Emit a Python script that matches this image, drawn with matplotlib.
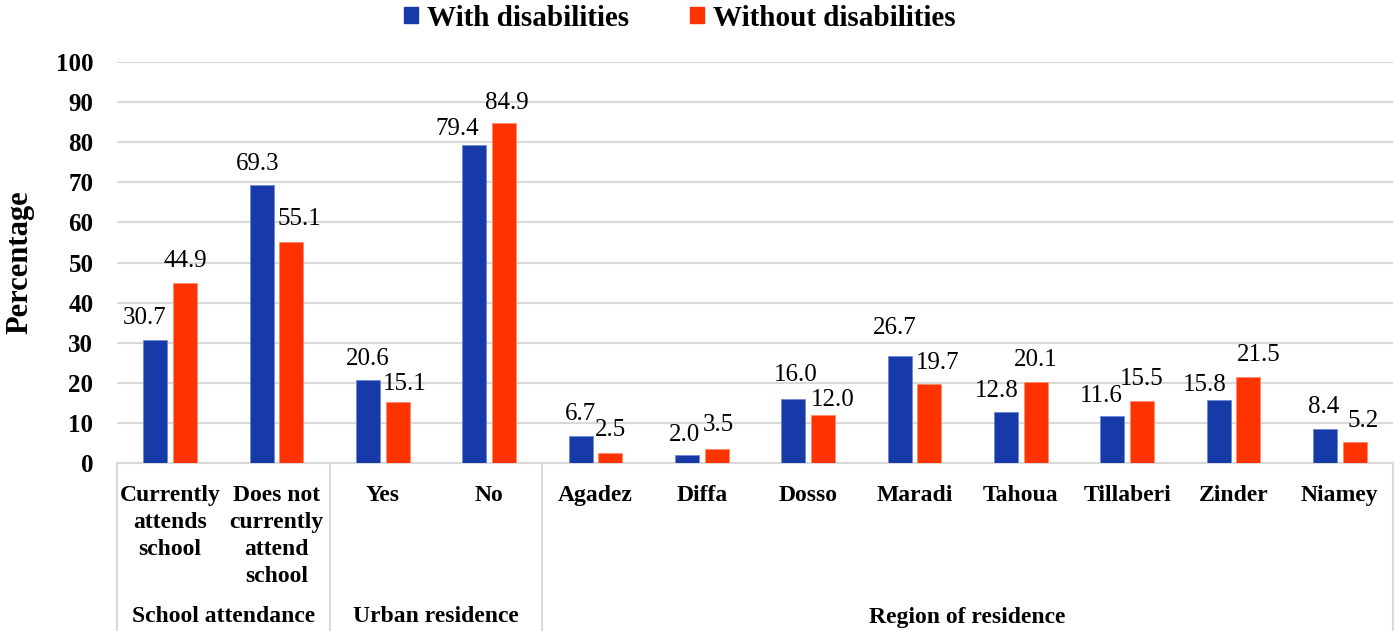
import matplotlib
matplotlib.use("Agg")
import matplotlib.pyplot as plt
from matplotlib.patches import Patch

# ---------------- data ----------------
categories = ["Currently\nattends\nschool", "Does not\ncurrently\nattend\nschool",
              "Yes", "No",
              "Agadez", "Diffa", "Dosso", "Maradi", "Tahoua", "Tillaberi", "Zinder", "Niamey"]
groups = ["School attendance", "Urban residence", "Region of residence"]
group_sizes = [2, 2, 8]
with_dis = [30.7, 69.3, 20.6, 79.4, 6.7, 2.0, 16.0, 26.7, 12.8, 11.6, 15.8, 8.4]
without_dis = [44.9, 55.1, 15.1, 84.9, 2.5, 3.5, 12.0, 19.7, 20.1, 15.5, 21.5, 5.2]
series_names = ["With disabilities", "Without disabilities"]
yticks = list(range(0, 101, 10))

# ---------------- style ----------------
BLUE = "#163BA9"
RED = "#FF3300"
GRID = "#D9D9D9"
FONT = "Liberation Serif"
plt.rcParams["font.family"] = [FONT, "DejaVu Serif"]

# label offsets in pixels (dx, dy up) of the label centre relative to bar top
blue_off = [(-11, 24), (-4, 23), (0, 23), (-17, 18), (0, 24), (-2, 22),
            (3, 26), (-5, 30), (-9, 23), (-11, 22), (-14, 17), (-1, 24)]
red_off = [(0, 24), (8, 25), (7, 20), (3, 22), (0, 25), (2, 26),
           (10, 17), (8, 23), (0, 24), (0, 24), (10, 24), (8, 23)]

W, H = 1395, 631
fig = plt.figure(figsize=(W / 100, H / 100), dpi=100)
L, R, T, B = 117, 1393, 62, 463
ax = fig.add_axes([L / W, 1 - B / H, (R - L) / W, (B - T) / H])
axh = B - T

n = len(categories)
xs = list(range(n))
bw = 24 / 106.5
off = 15 / 106.5

ax.bar([x - off for x in xs], with_dis, width=bw, color=BLUE, zorder=3,
       edgecolor="#6F88D0", linewidth=0.6)
ax.bar([x + off for x in xs], without_dis, width=bw, color=RED, zorder=3,
       edgecolor="#FF8A6A", linewidth=0.6)

for i, v in enumerate(with_dis):
    dx, dy = blue_off[i]
    ax.annotate(f"{v:.1f}", xy=(i - off, v), xytext=(dx, dy - 8),
                textcoords="offset pixels", ha="center", va="baseline",
                fontsize=18, family=FONT, zorder=4)
for i, v in enumerate(without_dis):
    dx, dy = red_off[i]
    ax.annotate(f"{v:.1f}", xy=(i + off, v), xytext=(dx, dy - 8),
                textcoords="offset pixels", ha="center", va="baseline",
                fontsize=18, family=FONT, zorder=4)

ax.set_xlim(-0.5, n - 0.5)
ax.set_ylim(0, 100)
ax.set_yticks(yticks)
ax.set_yticklabels([str(t) for t in yticks], fontsize=18, fontweight="bold", family=FONT)
ax.tick_params(axis="y", length=0, pad=17)
ax.set_xticks([])
ax.yaxis.grid(True, color=GRID, linewidth=1.5, zorder=0)
ax.set_axisbelow(True)
for s in ["top", "right", "left"]:
    ax.spines[s].set_visible(False)
ax.spines["bottom"].set_color(GRID)
ax.spines["bottom"].set_linewidth(1.5)

xt = ax.get_xaxis_transform()
# category labels
for i, c in enumerate(categories):
    ax.text(i, -(485 - B) / axh, c, transform=xt, ha="center", va="top",
            fontsize=17, fontweight="bold", family=FONT, linespacing=1.38)

# group labels and separators
start = 0
bottom_y = -(H - B) / axh
ax.plot([-0.5, -0.5], [0, bottom_y], transform=xt, color=GRID, lw=1.5, clip_on=False)
for g, sz in zip(groups, group_sizes):
    end = start + sz
    mid = (start + end - 1) / 2
    ax.text(mid, -(617 - B) / axh, g, transform=xt, ha="center", va="center",
            fontsize=17, fontweight="bold", family=FONT)
    ax.plot([end - 0.5, end - 0.5], [0, bottom_y], transform=xt, color=GRID,
            lw=1.5, clip_on=False)
    start = end

# y label
fig.text(20 / W, 1 - 262 / H, "Percentage", rotation=90, ha="center", va="center",
         fontsize=22, fontweight="bold", family=FONT)

# legend
handles = [Patch(color=BLUE), Patch(color=RED)]
fig.legend(handles, series_names, loc="center", bbox_to_anchor=(680 / W, 1 - 18 / H),
           ncol=2, frameon=False, prop={"family": FONT, "weight": "bold", "size": 21},
           handlelength=0.48, handleheight=0.48, handletextpad=0.3, columnspacing=2.1,
           borderaxespad=0, borderpad=0)

fig.savefig("out.png", dpi=100)
